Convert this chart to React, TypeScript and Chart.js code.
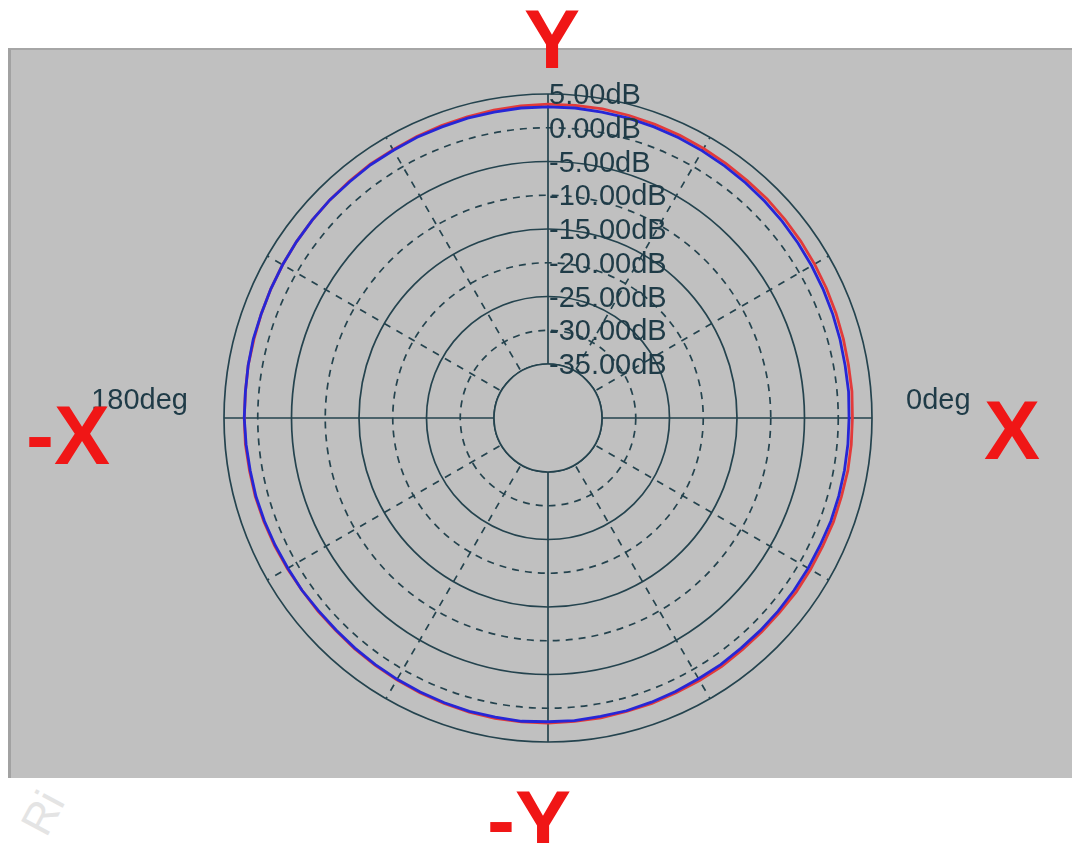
import React, { useEffect, useRef } from 'react';
import { Chart, registerables } from 'chart.js';

Chart.register(...registerables);

// ---- data (dB vs angle, angle counter-clockwise from 0deg at the right) ----
const angleDeg = [
  0, 5, 10, 15, 20, 25, 30, 35, 40, 45, 50, 55, 60, 65, 70, 75, 80, 85,
  90, 95, 100, 105, 110, 115, 120, 125, 130, 135, 140, 145, 150, 155, 160, 165, 170, 175,
  180, 185, 190, 195, 200, 205, 210, 215, 220, 225, 230, 235, 240, 245, 250, 255, 260, 265,
  270, 275, 280, 285, 290, 295, 300, 305, 310, 315, 320, 325, 330, 335, 340, 345, 350, 355,
];
const blueDb = [
  1.6, 1.7, 1.7, 1.8, 1.9, 2.0, 2.1, 2.2, 2.3, 2.4, 2.5, 2.6, 2.7, 2.8, 2.9, 3.0, 3.0, 3.1,
  3.1, 3.1, 3.0, 3.0, 2.9, 2.9, 2.8, 2.8, 2.7, 2.7, 2.6, 2.5, 2.4, 2.3, 2.2, 2.2, 2.1, 2.0,
  2.0, 1.9, 1.8, 1.8, 1.7, 1.6, 1.5, 1.5, 1.4, 1.4, 1.5, 1.6, 1.7, 1.8, 1.9, 2.0, 2.0, 2.1,
  2.0, 2.0, 1.9, 1.9, 1.8, 1.7, 1.6, 1.6, 1.5, 1.5, 1.5, 1.5, 1.5, 1.5, 1.6, 1.6, 1.6, 1.6,
];
const redDb = [
  2.1, 2.2, 2.2, 2.3, 2.4, 2.5, 2.6, 2.7, 2.8, 2.9, 2.9, 3.0, 3.1, 3.2, 3.3, 3.4, 3.5, 3.5,
  3.5, 3.4, 3.3, 3.2, 3.1, 3.0, 2.9, 2.9, 2.8, 2.7, 2.6, 2.5, 2.4, 2.3, 2.2, 2.1, 2.1, 2.0,
  2.0, 2.0, 1.9, 1.9, 1.8, 1.7, 1.6, 1.5, 1.5, 1.5, 1.6, 1.7, 1.8, 1.9, 2.0, 2.1, 2.2, 2.2,
  2.2, 2.1, 2.1, 2.0, 2.0, 1.9, 1.9, 1.9, 1.8, 1.8, 1.8, 1.9, 1.9, 1.9, 2.0, 2.0, 2.1, 2.1,
];
const ringDb = [-35, -30, -25, -20, -15, -10, -5, 0, 5];
const ringLabels = [
  '-35.00dB', '-30.00dB', '-25.00dB', '-20.00dB', '-15.00dB', '-10.00dB', '-5.00dB', '0.00dB', '5.00dB',
];
const axisLabelRight = '0deg';
const axisLabelLeft = '180deg';
const scaleMinDb = -43;
const scaleMaxDb = 5;

// ---- styles ----
const BG = '#c0c0c0';
const GRID = '#24434e';
const TEXT = '#1f3b47';
const BLUE = '#2626d6';
const RED = '#e23a3a';

// radar draws clockwise from the start angle; reorder so angles run counter-clockwise
const order = angleDeg.map((_, i) => (angleDeg.length - i) % angleDeg.length);
const chartLabels = order.map((k) => `${angleDeg[k]}deg`);

const decorPlugin = {
  id: 'polarDecor',
  beforeDatasetsDraw(chart: any) {
    const s = chart.scales.r;
    const ctx = chart.ctx;
    const r0 = s.getDistanceFromCenterForValue(ringDb[0]);
    ctx.save();
    ctx.beginPath();
    ctx.arc(s.xCenter, s.yCenter, r0, 0, Math.PI * 2);
    ctx.fillStyle = BG;
    ctx.fill();
    ctx.strokeStyle = GRID;
    ctx.lineWidth = 1.7;
    ctx.stroke();
    ctx.restore();
  },
  afterDatasetsDraw(chart: any) {
    const s = chart.scales.r;
    const ctx = chart.ctx;
    ctx.save();
    ctx.fillStyle = TEXT;
    ctx.font = '29px "Liberation Sans", Arial, sans-serif';
    ctx.textAlign = 'left';
    ctx.textBaseline = 'middle';
    ringDb.forEach((v, i) => {
      const d = s.getDistanceFromCenterForValue(v);
      ctx.fillText(ringLabels[i], s.xCenter + 1, s.yCenter - d + 2);
    });
    ctx.textBaseline = 'alphabetic';
    const outer = s.drawingArea;
    ctx.textAlign = 'left';
    ctx.fillText(axisLabelRight, s.xCenter + outer + 34, s.yCenter - 9);
    ctx.textAlign = 'right';
    ctx.fillText(axisLabelLeft, s.xCenter - outer - 36, s.yCenter - 9);
    ctx.restore();
  },
};

function PolarChart() {
  const ref = useRef<HTMLCanvasElement | null>(null);
  useEffect(() => {
    if (!ref.current) return;
    const chart = new Chart(ref.current, {
      type: 'radar',
      data: {
        labels: chartLabels,
        datasets: [
          {
            label: 'Blue',
            data: order.map((k) => blueDb[k]),
            borderColor: BLUE,
            borderWidth: 2.8,
            backgroundColor: 'rgba(0,0,0,0)',
            fill: false,
            pointRadius: 0,
          },
          {
            label: 'Red',
            data: order.map((k) => redDb[k]),
            borderColor: RED,
            borderWidth: 2.8,
            backgroundColor: 'rgba(0,0,0,0)',
            fill: false,
            pointRadius: 0,
          },
        ],
      },
      options: {
        animation: false,
        responsive: false,
        maintainAspectRatio: false,
        layout: { padding: { left: 224, right: 206, top: 94, bottom: 101 } },
        plugins: { legend: { display: false }, tooltip: { enabled: false } },
        elements: { line: { tension: 0 } },
        scales: {
          r: {
            min: scaleMinDb,
            max: scaleMaxDb,
            startAngle: 90,
            afterBuildTicks: (scale: any) => {
              scale.ticks = ringDb.map((v) => ({ value: v }));
            },
            ticks: { display: false },
            pointLabels: { display: false },
            grid: { circular: true, color: GRID, lineWidth: 1.7 },
            border: {
              dash: (c: any) => (c.tick && c.tick.value % 10 === 0 ? [7, 6] : []),
            },
            angleLines: {
              color: GRID,
              lineWidth: (c: any) => (c.index % 6 === 0 ? 1.7 : 0),
              borderDash: (c: any) => (c.index % 18 === 0 ? [] : [7, 7]),
            },
          } as any,
        },
      },
      plugins: [decorPlugin],
    });
    return () => chart.destroy();
  }, []);
  return (
    <canvas
      ref={ref}
      width={1078}
      height={843}
      style={{ position: 'absolute', left: 0, top: 0, width: 1078, height: 843 }}
    />
  );
}

const redText: React.CSSProperties = {
  position: 'absolute',
  color: '#f01616',
  fontFamily: '"Liberation Sans", Arial, sans-serif',
  fontWeight: 'bold',
  fontSize: 84,
  lineHeight: '84px',
  whiteSpace: 'pre',
};

export default function App() {
  return (
    <div
      style={{
        position: 'fixed',
        left: 0,
        top: 0,
        width: 1078,
        height: 843,
        background: '#ffffff',
        overflow: 'hidden',
      }}
    >
      <div
        style={{
          position: 'absolute',
          left: 22,
          top: 788,
          color: '#e4e4e4',
          fontFamily: '"Liberation Sans", Arial, sans-serif',
          fontSize: 44,
          lineHeight: '50px',
          transform: 'rotate(-62deg)',
          transformOrigin: 'center center',
        }}
      >
        Ri
      </div>
      <div
        style={{
          position: 'absolute',
          left: 8,
          top: 48,
          width: 1064,
          height: 730,
          background: BG,
          boxSizing: 'border-box',
          borderLeft: '3px solid #a2a2a2',
          borderTop: '2px solid #a6a6a6',
        }}
      />
      <PolarChart />
      <div style={{ ...redText, left: 524, top: -3 }}>Y</div>
      <div style={{ ...redText, left: 984, top: 388 }}>X</div>
      <div style={{ ...redText, left: 26, top: 393 }}>-X</div>
      <div style={{ ...redText, left: 487, top: 778 }}>-Y</div>
    </div>
  );
}
